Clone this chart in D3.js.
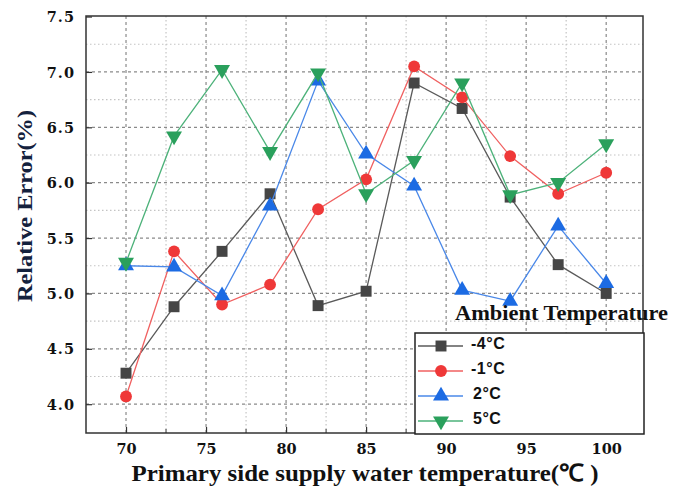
<!DOCTYPE html>
<html>
<head>
<meta charset="utf-8">
<script src="https://cdn.jsdelivr.net/npm/d3@7"></script>
<style>
  body { margin: 0; background: #fff; }
  svg { display: block; }
</style>
</head>
<body>
<div id="chart"></div>
<script>
// primary side supply water temperature (x)
const temps = [70, 73, 76, 79, 82, 85, 88, 91, 94, 97, 100];
// relative error (%) per ambient temperature
const errM4 = [4.28, 4.88, 5.38, 5.90, 4.89, 5.02, 6.90, 6.67, 5.87, 5.26, 5.00];
const errM1 = [4.07, 5.38, 4.90, 5.08, 5.76, 6.03, 7.05, 6.77, 6.24, 5.90, 6.09];
const err2 = [5.25, 5.24, 4.98, 5.79, 6.92, 6.26, 5.97, 5.03, 4.93, 5.61, 5.09];
const err5 = [5.28, 6.42, 7.02, 6.28, 6.99, 5.90, 6.20, 6.90, 5.89, 6.00, 6.35];
const seriesNames = ["-4°C", "-1°C", "2°C", "5°C"];
const xTicks = [70, 75, 80, 85, 90, 95, 100];
const yTicks = [4.0, 4.5, 5.0, 5.5, 6.0, 6.5, 7.0, 7.5];

const width = 685, height = 488;
const plot = {left: 86, right: 643, top: 16, bottom: 433};

const svg = d3.select("#chart").append("svg")
  .attr("width", width)
  .attr("height", height);

const x = d3.scaleLinear().domain([67.5, 102.3]).range([plot.left, plot.right]);
const y = d3.scaleLinear().domain([3.74, 7.505]).range([plot.bottom, plot.top]);

const styles = [
  {color: "#454545", line: "#5a5a5a", shape: d3.symbolSquare, size: 120, rot: 0},
  {color: "#ef3838", line: "#f06060", shape: d3.symbolCircle, size: 110, rot: 0},
  {color: "#1c6be3", line: "#4a88e8", shape: d3.symbolTriangle, size: 110, rot: 0},
  {color: "#2aa05c", line: "#4db27a", shape: d3.symbolTriangle, size: 110, rot: 180}
];
const series = [errM4, errM1, err2, err5].map((vals, i) => ({
  name: seriesNames[i],
  points: vals.map((v, j) => ({t: temps[j], v: v})),
  style: styles[i]
}));

// grid
const grid = svg.append("g");
const xMinor = d3.range(72.5, 102.3, 5);
const yMinor = d3.range(4.25, 7.5, 0.5);
grid.selectAll(".xmin").data(xMinor).enter().append("line")
  .attr("x1", d => x(d)).attr("x2", d => x(d))
  .attr("y1", plot.top).attr("y2", plot.bottom)
  .attr("stroke", "#c4c4c4").attr("stroke-width", 1.2).attr("stroke-dasharray", "1.5,2.5");
grid.selectAll(".ymin").data(yMinor).enter().append("line")
  .attr("x1", plot.left).attr("x2", plot.right)
  .attr("y1", d => y(d)).attr("y2", d => y(d))
  .attr("stroke", "#c4c4c4").attr("stroke-width", 1.2).attr("stroke-dasharray", "1.5,2.5");
grid.selectAll(".xmaj").data(xTicks).enter().append("line")
  .attr("x1", d => x(d)).attr("x2", d => x(d))
  .attr("y1", plot.top).attr("y2", plot.bottom)
  .attr("stroke", "#8a8a8a").attr("stroke-width", 1.2).attr("stroke-dasharray", "3,3");
grid.selectAll(".ymaj").data(yTicks.filter(d => d < 7.5)).enter().append("line")
  .attr("x1", plot.left).attr("x2", plot.right)
  .attr("y1", d => y(d)).attr("y2", d => y(d))
  .attr("stroke", "#8a8a8a").attr("stroke-width", 1.2).attr("stroke-dasharray", "3,3");

// axes
const xAxis = svg.append("g")
  .attr("transform", "translate(0," + plot.bottom + ")")
  .call(d3.axisBottom(x).tickValues(xTicks).tickSize(-6).tickPadding(11));
const yAxis = svg.append("g")
  .attr("transform", "translate(" + plot.left + ",0)")
  .call(d3.axisLeft(y).tickValues(yTicks).tickSize(-6).tickPadding(11).tickFormat(d3.format(".1f")));
[xAxis, yAxis].forEach(a => {
  a.select(".domain").remove();
  a.selectAll("line").attr("stroke", "#333").attr("stroke-width", 1.2);
  a.selectAll("text")
    .attr("fill", "#111")
    .style("font-family", "'DejaVu Serif', serif")
    .style("font-weight", "bold")
    .style("font-size", "14.5px");
});
yAxis.selectAll("text").attr("dy", "0.35em").style("letter-spacing", "1px");
svg.append("g").selectAll("line").data(xMinor).enter().append("line")
  .attr("x1", d => x(d)).attr("x2", d => x(d))
  .attr("y1", plot.bottom).attr("y2", plot.bottom - 4)
  .attr("stroke", "#333").attr("stroke-width", 1);

// series
const line = d3.line().x(d => x(d.t)).y(d => y(d.v));
series.forEach(s => {
  const g = svg.append("g");
  g.append("path")
    .datum(s.points)
    .attr("d", line)
    .attr("fill", "none")
    .attr("stroke", s.style.line)
    .attr("stroke-width", 1.3);
  g.selectAll("path.m").data(s.points).enter().append("path")
    .attr("class", "m")
    .attr("d", d3.symbol().type(s.style.shape).size(s.style.size))
    .attr("transform", d => "translate(" + x(d.t) + "," + y(d.v) + ") rotate(" + s.style.rot + ")")
    .attr("fill", s.style.color);
});

// frame
svg.append("rect")
  .attr("x", plot.left).attr("y", plot.top)
  .attr("width", plot.right - plot.left).attr("height", plot.bottom - plot.top)
  .attr("fill", "none").attr("stroke", "#333").attr("stroke-width", 1.5);

// legend
const leg = svg.append("g");
leg.append("rect")
  .attr("x", 415).attr("y", 333)
  .attr("width", 229).attr("height", 101)
  .attr("fill", "#fff").attr("stroke", "#222").attr("stroke-width", 1.5);
leg.append("text")
  .attr("x", 455).attr("y", 320)
  .attr("textLength", 213)
  .attr("lengthAdjust", "spacingAndGlyphs")
  .style("font-family", "'Liberation Serif', serif")
  .style("font-weight", "bold")
  .style("font-size", "22px")
  .attr("fill", "#111")
  .text("Ambient Temperature");
series.forEach((s, i) => {
  const ly = 346 + i * 25;
  leg.append("line")
    .attr("x1", 418).attr("x2", 463)
    .attr("y1", ly).attr("y2", ly)
    .attr("stroke", s.style.line).attr("stroke-width", 1.3);
  leg.append("path")
    .attr("d", d3.symbol().type(s.style.shape).size(s.style.size))
    .attr("transform", "translate(441," + ly + ") rotate(" + s.style.rot + ")")
    .attr("fill", s.style.color);
  leg.append("text")
    .attr("x", i === 2 || i === 3 ? 473 : 471).attr("y", ly - 3)
    .attr("dy", "0.35em")
    .style("font-family", "'Liberation Sans', Arial, sans-serif")
    .style("font-weight", "bold")
    .style("font-size", "16px")
    .style("letter-spacing", "0.5px")
    .attr("fill", "#111")
    .text(s.name);
});

// axis titles
svg.append("text")
  .attr("transform", "translate(32,206) rotate(-90)")
  .attr("text-anchor", "middle")
  .attr("textLength", 192)
  .attr("lengthAdjust", "spacingAndGlyphs")
  .style("font-family", "'Liberation Serif', serif")
  .style("font-weight", "bold")
  .style("font-size", "20px")
  .attr("fill", "#14213d")
  .text("Relative Error(%)");
svg.append("text")
  .attr("x", 365).attr("y", 481)
  .attr("text-anchor", "middle")
  .attr("textLength", 467)
  .attr("lengthAdjust", "spacingAndGlyphs")
  .style("font-family", "'Liberation Serif', serif")
  .style("font-weight", "bold")
  .style("font-size", "24px")
  .attr("fill", "#111")
  .text("Primary side supply water temperature(℃ )");
</script>
</body>
</html>
